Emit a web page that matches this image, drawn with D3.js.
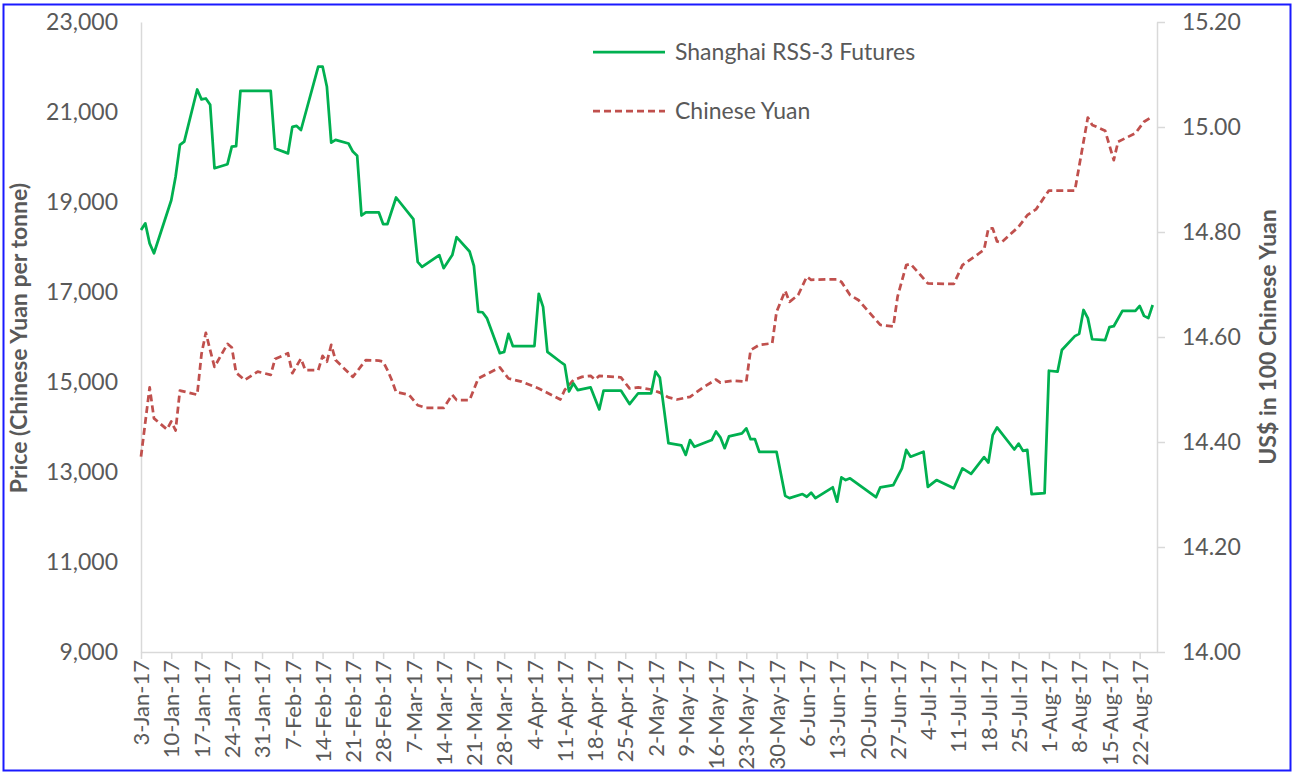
<!DOCTYPE html>
<html><head><meta charset="utf-8">
<script src="https://cdn.jsdelivr.net/npm/d3@7"></script>
<style>
body{margin:0;background:#fff;}
svg text{font-family:Lato,"Open Sans","Liberation Sans",sans-serif;fill:#595959;}
</style>
</head><body>
<svg id="chart" width="1295" height="774"></svg>
<script>
// ---------- DATA ----------
const seriesNames = ["Shanghai RSS-3 Futures", "Chinese Yuan"];

const rubberDates = ["2017-01-03","2017-01-04","2017-01-05","2017-01-06","2017-01-10","2017-01-11","2017-01-12","2017-01-13","2017-01-16","2017-01-17","2017-01-18","2017-01-19","2017-01-20","2017-01-23","2017-01-24","2017-01-25","2017-01-26","2017-02-02","2017-02-03","2017-02-06","2017-02-07","2017-02-08","2017-02-09","2017-02-13","2017-02-14","2017-02-15","2017-02-16","2017-02-17","2017-02-20","2017-02-21","2017-02-22","2017-02-23","2017-02-24","2017-02-27","2017-02-28","2017-03-01","2017-03-03","2017-03-07","2017-03-08","2017-03-09","2017-03-13","2017-03-14","2017-03-16","2017-03-17","2017-03-20","2017-03-21","2017-03-22","2017-03-23","2017-03-24","2017-03-27","2017-03-28","2017-03-29","2017-03-30","2017-04-04","2017-04-05","2017-04-06","2017-04-07","2017-04-10","2017-04-11","2017-04-12","2017-04-13","2017-04-14","2017-04-17","2017-04-19","2017-04-20","2017-04-24","2017-04-26","2017-04-28","2017-05-01","2017-05-02","2017-05-03","2017-05-04","2017-05-05","2017-05-08","2017-05-09","2017-05-10","2017-05-11","2017-05-15","2017-05-16","2017-05-17","2017-05-18","2017-05-19","2017-05-22","2017-05-23","2017-05-24","2017-05-25","2017-05-26","2017-05-30","2017-06-01","2017-06-02","2017-06-05","2017-06-06","2017-06-07","2017-06-08","2017-06-12","2017-06-13","2017-06-14","2017-06-15","2017-06-16","2017-06-22","2017-06-23","2017-06-26","2017-06-28","2017-06-29","2017-06-30","2017-07-03","2017-07-04","2017-07-06","2017-07-10","2017-07-12","2017-07-14","2017-07-17","2017-07-18","2017-07-19","2017-07-20","2017-07-24","2017-07-25","2017-07-26","2017-07-27","2017-07-28","2017-07-31","2017-08-01","2017-08-03","2017-08-04","2017-08-07","2017-08-08","2017-08-09","2017-08-10","2017-08-11","2017-08-14","2017-08-15","2017-08-16","2017-08-18","2017-08-21","2017-08-22","2017-08-23","2017-08-24","2017-08-25"];
const rubberPrices = [18380,18525,18080,17860,19040,19560,20270,20340,21500,21280,21300,21160,19750,19840,20230,20240,21470,21470,20190,20080,20670,20690,20600,22010,22010,21560,20320,20380,20300,20120,20030,18700,18770,18770,18510,18510,19100,18620,17670,17560,17820,17530,17820,18220,17900,17580,16560,16550,16420,15640,15670,16070,15800,15800,16960,16670,15670,15450,15380,14790,14970,14820,14880,14390,14810,14810,14510,14750,14750,15230,15100,14380,13640,13590,13380,13710,13560,13710,13900,13770,13530,13790,13860,13970,13730,13730,13450,13450,12470,12420,12510,12450,12540,12420,12660,12340,12880,12820,12860,12440,12660,12710,13080,13490,13340,13450,12670,12820,12640,13080,12960,13330,13210,13820,13990,13500,13630,13470,13490,12510,12530,15250,15230,15710,16020,16070,16600,16420,15950,15930,16220,16240,16580,16580,16690,16470,16420,16710];

const yuanDates = ["2017-01-03","2017-01-05","2017-01-06","2017-01-09","2017-01-10","2017-01-11","2017-01-12","2017-01-16","2017-01-17","2017-01-18","2017-01-19","2017-01-20","2017-01-23","2017-01-24","2017-01-25","2017-01-27","2017-01-30","2017-02-02","2017-02-03","2017-02-06","2017-02-07","2017-02-09","2017-02-10","2017-02-13","2017-02-14","2017-02-15","2017-02-16","2017-02-17","2017-02-21","2017-02-24","2017-02-27","2017-02-28","2017-03-01","2017-03-02","2017-03-03","2017-03-06","2017-03-08","2017-03-10","2017-03-14","2017-03-16","2017-03-17","2017-03-20","2017-03-22","2017-03-27","2017-03-29","2017-04-01","2017-04-05","2017-04-10","2017-04-11","2017-04-13","2017-04-15","2017-04-17","2017-04-18","2017-04-19","2017-04-24","2017-04-26","2017-04-28","2017-05-01","2017-05-03","2017-05-05","2017-05-07","2017-05-10","2017-05-13","2017-05-16","2017-05-17","2017-05-20","2017-05-23","2017-05-24","2017-05-26","2017-05-29","2017-05-30","2017-06-01","2017-06-02","2017-06-04","2017-06-06","2017-06-07","2017-06-13","2017-06-14","2017-06-16","2017-06-18","2017-06-20","2017-06-23","2017-06-26","2017-06-27","2017-06-29","2017-06-30","2017-07-02","2017-07-04","2017-07-10","2017-07-12","2017-07-17","2017-07-18","2017-07-19","2017-07-20","2017-07-21","2017-07-25","2017-07-27","2017-07-29","2017-08-01","2017-08-07","2017-08-10","2017-08-11","2017-08-14","2017-08-16","2017-08-17","2017-08-21","2017-08-23","2017-08-25"];
const yuanRates = [14.372,14.504,14.445,14.424,14.439,14.422,14.498,14.490,14.568,14.608,14.575,14.543,14.587,14.580,14.532,14.518,14.534,14.528,14.558,14.569,14.531,14.559,14.537,14.537,14.564,14.553,14.585,14.556,14.524,14.556,14.555,14.553,14.537,14.518,14.495,14.490,14.470,14.465,14.465,14.490,14.480,14.480,14.521,14.542,14.521,14.515,14.502,14.481,14.499,14.518,14.524,14.526,14.519,14.526,14.523,14.502,14.504,14.500,14.494,14.485,14.481,14.486,14.504,14.519,14.513,14.517,14.515,14.575,14.585,14.588,14.648,14.688,14.667,14.680,14.715,14.709,14.710,14.705,14.680,14.670,14.651,14.623,14.620,14.677,14.737,14.739,14.721,14.702,14.701,14.737,14.766,14.807,14.807,14.782,14.780,14.810,14.832,14.843,14.879,14.879,15.018,15.004,14.993,14.937,14.972,14.988,15.010,15.020];

const xTickLabels = ["3-Jan-17","10-Jan-17","17-Jan-17","24-Jan-17","31-Jan-17","7-Feb-17","14-Feb-17","21-Feb-17","28-Feb-17","7-Mar-17","14-Mar-17","21-Mar-17","28-Mar-17","4-Apr-17","11-Apr-17","18-Apr-17","25-Apr-17","2-May-17","9-May-17","16-May-17","23-May-17","30-May-17","6-Jun-17","13-Jun-17","20-Jun-17","27-Jun-17","4-Jul-17","11-Jul-17","18-Jul-17","25-Jul-17","1-Aug-17","8-Aug-17","15-Aug-17","22-Aug-17"];
const leftTicks = [9000,11000,13000,15000,17000,19000,21000,23000];
const rightTicks = [14.00,14.20,14.40,14.60,14.80,15.00,15.20];
const axisTitles = ["Price (Chinese Yuan per tonne)", "US$ in 100 Chinese Yuan"];
const xDomain = ["2017-01-03","2017-08-26"];

// ---------- CHART ----------
const parse = d3.timeParse("%Y-%m-%d");
const parseTick = d3.timeParse("%d-%b-%y");
const svg = d3.select("#chart");
const W = 1295, H = 774;
const m = {left:141, right:1157, top:22, bottom:652};
const gridCol = "#d9d9d9", textCol = "#595959";
const green = "#00b050", red = "#c0504d";

svg.append("rect").attr("width",W).attr("height",H).attr("fill","#fff");
svg.append("rect").attr("x",3.5).attr("y",4.5).attr("width",1287).attr("height",766)
  .attr("fill","none").attr("stroke","#1a1aff").attr("stroke-width",2);

const x = d3.scaleTime().domain(xDomain.map(parse)).range([m.left, m.right]);
const yL = d3.scaleLinear().domain([9000,23000]).range([m.bottom, m.top]);
const yR = d3.scaleLinear().domain([14,15.2]).range([m.bottom, m.top]);

// left axis
const gL = svg.append("g").attr("transform",`translate(${m.left},0)`)
  .call(d3.axisLeft(yL).tickValues(leftTicks).tickSize(0).tickPadding(23).tickFormat(d3.format(",")));
gL.select(".domain").attr("stroke",gridCol).attr("stroke-width",1.5);
gL.selectAll("text").attr("font-size",23).attr("fill",textCol).style("font-family","Lato");

// right axis
const gR = svg.append("g").attr("transform",`translate(${m.right},0)`)
  .call(d3.axisRight(yR).tickValues(rightTicks).tickSizeInner(8).tickSizeOuter(0).tickPadding(17).tickFormat(d3.format(".2f")));
gR.select(".domain").attr("stroke",gridCol).attr("stroke-width",1.5);
gR.selectAll("line").attr("stroke",gridCol).attr("stroke-width",1.5);
gR.selectAll("text").attr("font-size",23).attr("fill",textCol).style("font-family","Lato");

// bottom axis
const gB = svg.append("g").attr("transform",`translate(0,${m.bottom})`)
  .call(d3.axisBottom(x).tickValues(xTickLabels.map(parseTick)).tickSizeInner(7).tickSizeOuter(0).tickFormat(d3.timeFormat("%-d-%b-%y")));
gB.select(".domain").attr("stroke",gridCol).attr("stroke-width",1.5);
gB.selectAll("line").attr("stroke",gridCol).attr("stroke-width",1.5);
gB.selectAll("text").attr("font-size",22).attr("fill",textCol).style("font-family","Lato")
  .attr("text-anchor","end").attr("transform","rotate(-90)")
  .attr("x",-8).attr("y",0).attr("dy","0.35em");

// lines
const lineL = d3.line().x(d=>x(d[0])).y(d=>yL(d[1]));
const lineR = d3.line().x(d=>x(d[0])).y(d=>yR(d[1]));
svg.append("path").datum(yuanDates.map((d,i)=>[parse(d), yuanRates[i]]))
  .attr("d",lineR).attr("fill","none").attr("stroke",red).attr("stroke-width",2.75)
  .attr("stroke-dasharray","7,4").attr("stroke-linejoin","round");
svg.append("path").datum(rubberDates.map((d,i)=>[parse(d), rubberPrices[i]]))
  .attr("d",lineL).attr("fill","none").attr("stroke",green).attr("stroke-width",2.75)
  .attr("stroke-linejoin","round");

// axis titles
svg.append("text").attr("transform","translate(27,338) rotate(-90)")
  .attr("text-anchor","middle").attr("font-size",23).attr("font-weight","bold").text(axisTitles[0]);
svg.append("text").attr("transform","translate(1276,337) rotate(-90)")
  .attr("text-anchor","middle").attr("font-size",23).attr("font-weight","bold").text(axisTitles[1]);

// legend
const leg = [{name:seriesNames[0], col:green, dash:null, y:52},{name:seriesNames[1], col:red, dash:"7,4", y:111}];
leg.forEach(l=>{
  svg.append("line").attr("x1",593).attr("x2",665).attr("y1",l.y).attr("y2",l.y)
    .attr("stroke",l.col).attr("stroke-width",2.75).attr("stroke-dasharray",l.dash);
  svg.append("text").attr("x",675).attr("y",l.y).attr("dy","0.35em").attr("font-size",23).text(l.name);
});
</script>
</body></html>
